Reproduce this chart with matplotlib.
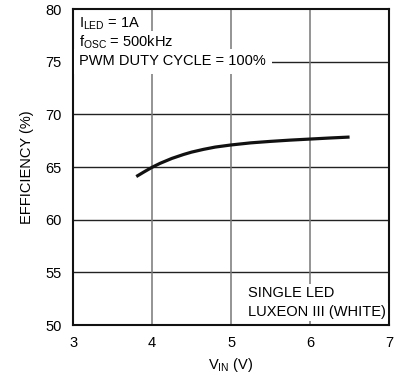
import matplotlib
matplotlib.use('Agg')
import matplotlib.pyplot as plt

# efficiency vs input voltage
vin = [3.8, 3.9, 4.0, 4.1, 4.25, 4.4, 4.5, 4.65, 4.8, 5.0, 5.25, 5.5, 5.75, 6.0, 6.25, 6.5]
eff = [64.1, 64.55, 64.98, 65.35, 65.82, 66.2, 66.42, 66.68, 66.9, 67.1, 67.3, 67.44, 67.56, 67.66, 67.76, 67.85]

xticks = [3, 4, 5, 6, 7]
yticks = [50, 55, 60, 65, 70, 75, 80]

plt.rcParams['font.family'] = ['Liberation Sans Narrow', 'Liberation Sans', 'DejaVu Sans']
plt.rcParams['mathtext.fontset'] = 'custom'
plt.rcParams['mathtext.rm'] = 'Liberation Sans'
plt.rcParams['font.size'] = 10.5

fig = plt.figure(figsize=(3.95, 3.78), dpi=100)
ax = fig.add_axes([0.185, 0.140, 0.800, 0.836])

ax.plot(vin, eff, color='#111111', lw=2.3, solid_capstyle='butt', zorder=2)

ax.set_xlim(3, 7)
ax.set_ylim(50, 80)
ax.set_xticks(xticks)
ax.set_yticks(yticks)
ax.tick_params(length=0, pad=8, labelsize=10.5)
ax.set_axisbelow(True)
for y in yticks[1:-1]:
    ax.axhline(y, color='#222222', lw=1.0, zorder=0.5)
for x in xticks[1:-1]:
    ax.axvline(x, color='#777777', lw=1.1, zorder=0.5)
for s in ax.spines.values():
    s.set_linewidth(1.5)
    s.set_color('#111111')

ax.set_xlabel(r'V$_{\rm IN}$ (V)', labelpad=4)
ax.set_ylabel('EFFICIENCY (%)', labelpad=8)

box = dict(facecolor='white', edgecolor='none', pad=1.5)
ax.text(0.02, 0.955, r'I$_{\rm LED}$ = 1A', transform=ax.transAxes, va='center', bbox=box, zorder=3)
ax.text(0.02, 0.895, r'f$_{\rm OSC}$ = 500kHz', transform=ax.transAxes, va='center', bbox=box, zorder=3)
ax.text(0.02, 0.835, 'PWM DUTY CYCLE = 100%', transform=ax.transAxes, va='center',
        bbox=dict(facecolor='white', edgecolor='none', pad=4), zorder=3)
ax.text(0.555, 0.10, 'SINGLE LED', transform=ax.transAxes, va='center', bbox=box, zorder=3)
ax.text(0.555, 0.04, 'LUXEON III (WHITE)', transform=ax.transAxes, va='center', bbox=box, zorder=3)

fig.savefig('out.png', dpi=100)
